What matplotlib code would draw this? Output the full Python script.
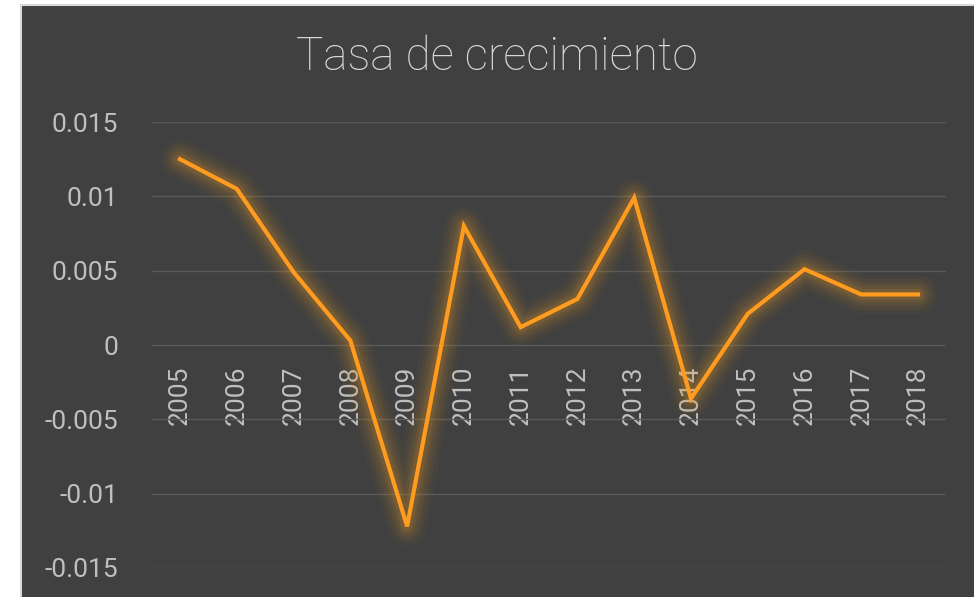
import matplotlib
matplotlib.use("Agg")
import matplotlib.pyplot as plt
from matplotlib.patches import Rectangle
import numpy as np

# datos
anios = ["2005", "2006", "2007", "2008", "2009", "2010", "2011",
         "2012", "2013", "2014", "2015", "2016", "2017", "2018"]
tasa = [0.0125, 0.0105, 0.0049, 0.0003, -0.0122, 0.0080, 0.0012,
        0.0031, 0.0099, -0.0036, 0.0021, 0.0051, 0.0034, 0.0034]
yticks = [-0.015, -0.01, -0.005, 0, 0.005, 0.01, 0.015]
ylabels = ["-0.015", "-0.01", "-0.005", "0", "0.005", "0.01", "0.015"]

plt.rcParams['font.family'] = ['Roboto', 'DejaVu Sans']

fig = plt.figure(figsize=(9.74, 5.97), dpi=100)
fig.patch.set_facecolor("white")
# fondo del grafico (tipo Excel)
fondo = Rectangle((20.5/974, -0.01), 1.0, 1.01 - 4.5/597, transform=fig.transFigure,
                  facecolor="#404040", edgecolor="#d9d9d9", linewidth=1.5, zorder=-10)
fig.patches.append(fondo)

ax = fig.add_axes([0.1557, 0.0486, 0.816, 0.747])
ax.set_zorder(1)
ax.set_facecolor("none")

x = np.arange(len(anios))
# brillo alrededor de la linea
for lw, a in [(28, 0.04), (22, 0.05), (17, 0.07), (12, 0.09), (8, 0.12)]:
    ax.plot(x, tasa, color="#e89a25", linewidth=lw, alpha=a, solid_capstyle="round",
            solid_joinstyle="round", zorder=2)
ax.plot(x, tasa, color="#ff9b1f", linewidth=3, zorder=3, solid_joinstyle="miter")

ax.set_xlim(-0.5, len(anios) - 0.5)
ax.set_ylim(-0.015, 0.015)
ax.set_yticks(yticks)
ax.set_yticklabels(ylabels)
ax.grid(axis="y", color="#595959", linewidth=1)
ax.set_axisbelow(True)

for s in ax.spines.values():
    s.set_visible(False)
ax.spines['bottom'].set_position(('data', 0))

ax.set_xticks(x)
ax.set_xticklabels(anios, rotation=90, va="top")
ax.tick_params(axis="x", length=0, pad=15, labelsize=19, labelcolor="#bfbfbf")
ax.tick_params(axis="y", length=0, pad=24, labelsize=19, labelcolor="#bfbfbf")
for t in ax.get_xticklabels() + ax.get_yticklabels():
    t.set_zorder(5)

fig.text(0.51, 0.905, "Tasa de crecimiento", ha="center", va="center",
         fontsize=33, color="#d9d9d9", fontweight="light")

fig.savefig("out.png", dpi=100)
